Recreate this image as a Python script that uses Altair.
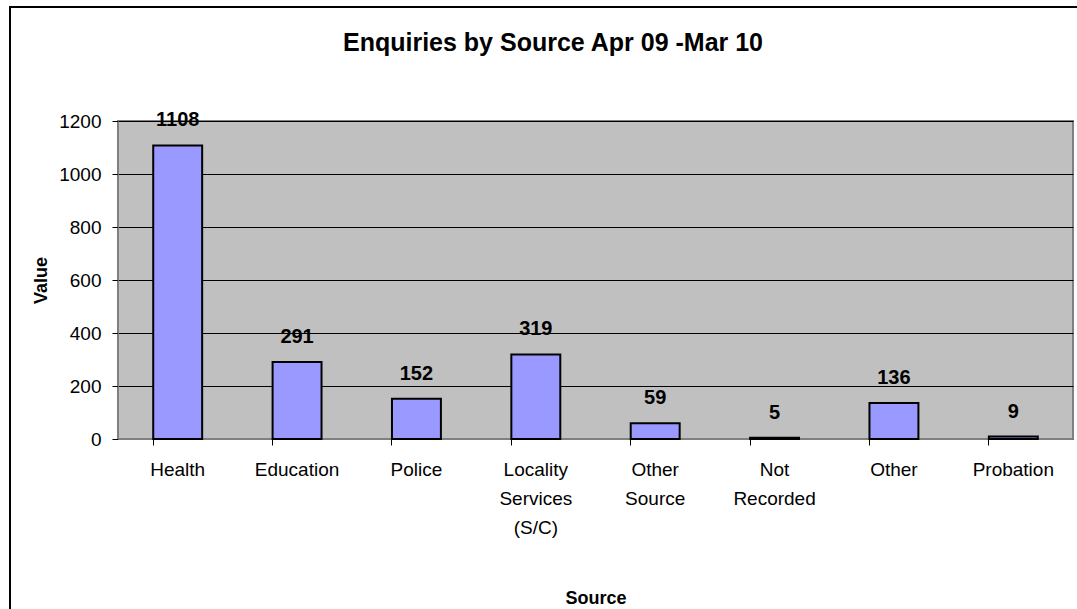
import altair as alt
import pandas as pd

categories = ["Health", "Education", "Police", "Locality|Services|(S/C)",
              "Other|Source", "Not|Recorded", "Other", "Probation"]
values = [1108, 291, 152, 319, 59, 5, 136, 9]
title_text = ["Enquiries by Source Apr 09 -Mar 10"]

df = pd.DataFrame({"Source": categories, "Value": values})

FONT = "Liberation Sans"
L, T = 118, 121
W, H = 955, 318

x_enc = alt.X("Source:N", sort=None, title="Source",
              scale=alt.Scale(paddingInner=0.59, paddingOuter=0.295),
              axis=alt.Axis(labelAngle=0, labelExpr="split(datum.label, '|')",
                            labelFontSize=19, labelFont=FONT, labelColor="black",
                            labelLineHeight=29, labelPadding=15, bandPosition=0,
                            tickSize=6, tickColor="black", domainColor="#808080",
                            titleFont=FONT, titleFontSize=18, titleFontWeight="bold",
                            titlePadding=52, titleColor="black"))
y_enc = alt.Y("Value:Q", title="Value",
              scale=alt.Scale(domain=[0, 1200], nice=False),
              axis=alt.Axis(values=[0, 200, 400, 600, 800, 1000, 1200], format="d",
                            labelFontSize=19, labelFont=FONT, labelColor="black",
                            labelPadding=11, tickSize=6, tickColor="black",
                            domainColor="#808080", grid=True, gridColor="black",
                            gridWidth=1, titleFont=FONT, titleFontSize=18,
                            titleFontWeight="bold", titlePadding=8, titleColor="black"))

bars = alt.Chart(df).mark_bar(color="#9999FF", stroke="black", strokeWidth=2).encode(
    x=x_enc, y=y_enc)

labels = alt.Chart(df).mark_text(font=FONT, fontSize=20, fontWeight="bold",
                                 baseline="bottom", dy=-15, color="black").encode(
    x=alt.X("Source:N", sort=None), y="Value:Q", text="Value:Q")

border = alt.Chart(df).mark_rect(fill=None, stroke="black", strokeWidth=1.5, clip=False).encode(
    x=alt.value(10 - L), x2=alt.value(1077 - L + 20),
    y=alt.value(7 - T), y2=alt.value(609 - T + 20))

title = alt.Chart(pd.DataFrame({"t": title_text})).mark_text(
    font=FONT, fontSize=25, fontWeight="bold", color="black",
    baseline="alphabetic", align="center").encode(
    x=alt.value(553 - L), y=alt.value(51 - T), text="t:N")

chart = alt.layer(bars, labels, border, title).properties(
    width=W, height=H,
    autosize=alt.AutoSizeParams(type="none"),
    padding={"left": L, "top": T, "right": 1077 - L - W, "bottom": 609 - T - H},
    background="white",
).configure_view(fill="#C0C0C0", stroke="#808080", strokeWidth=2)

chart.save("out.html", embed_options={"renderer": "svg", "actions": False})
